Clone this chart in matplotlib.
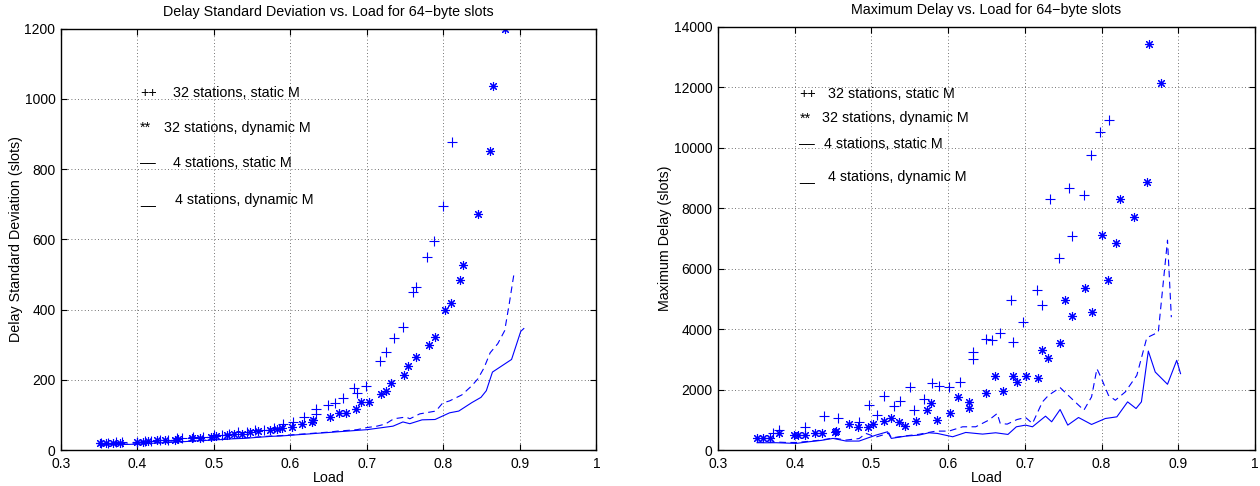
import matplotlib
matplotlib.use('Agg')
import matplotlib.pyplot as plt
import numpy as np

plt.rcParams['font.family'] = ['Liberation Sans', 'DejaVu Sans']

# ---- left panel: delay standard deviation (slots) ----
sd_static32_x = [0.352, 0.362, 0.372, 0.380, 0.400, 0.410, 0.418, 0.430, 0.440, 0.452,
                 0.458, 0.473, 0.485, 0.500, 0.510, 0.520, 0.532, 0.543, 0.553, 0.565,
                 0.578, 0.590, 0.603, 0.618, 0.633, 0.633, 0.649, 0.658, 0.669, 0.683,
                 0.687, 0.699, 0.717, 0.725, 0.735, 0.747, 0.760, 0.764, 0.779, 0.788,
                 0.799, 0.811]
sd_static32_y = [20, 21, 22, 22, 24, 26, 27, 29, 30, 33,
                 34, 36, 37, 42, 43, 47, 50, 51, 57, 58,
                 64, 74, 80, 94, 103, 117, 129, 134, 149, 177,
                 163, 183, 254, 280, 320, 349, 451, 463, 551, 594,
                 694, 877]

sd_dyn32_x = [0.351, 0.359, 0.368, 0.377, 0.399, 0.407, 0.414, 0.426, 0.436, 0.449,
              0.453, 0.471, 0.482, 0.496, 0.503, 0.517, 0.526, 0.537, 0.547, 0.558,
              0.573, 0.582, 0.589, 0.602, 0.615, 0.628, 0.630, 0.652, 0.663, 0.672,
              0.686, 0.692, 0.702, 0.718, 0.725, 0.731, 0.748, 0.754, 0.764, 0.781,
              0.789, 0.802, 0.810, 0.822, 0.826, 0.845, 0.861, 0.865, 0.880]
sd_dyn32_y = [20, 20, 21, 21, 23, 24, 25, 28, 28, 30,
              31, 33, 34, 38, 40, 44, 46, 47, 52, 54,
              58, 60, 62, 67, 74, 80, 86, 94, 106, 106,
              117, 137, 137, 160, 169, 191, 214, 240, 266, 300,
              323, 400, 420, 483, 526, 671, 851, 1037, 1200]

sd_static4_x = [0.350, 0.362, 0.375, 0.388, 0.400, 0.412, 0.425, 0.437, 0.450, 0.462,
                0.475, 0.487, 0.500, 0.512, 0.525, 0.537, 0.550, 0.562, 0.575, 0.587,
                0.600, 0.612, 0.625, 0.637, 0.650, 0.662, 0.675, 0.687, 0.700, 0.713,
                0.724, 0.735, 0.751, 0.756, 0.769, 0.790, 0.799, 0.808, 0.824, 0.837,
                0.845, 0.853, 0.861, 0.871, 0.880, 0.886, 0.892]
sd_static4_y = [15, 16, 17, 17, 18, 19, 21, 22, 24, 25,
                27, 28, 30, 31, 33, 34, 36, 38, 40, 41,
                43, 45, 47, 49, 51, 54, 56, 58, 64, 68,
                74, 89, 94, 89, 103, 111, 134, 140, 157, 183,
                203, 234, 277, 303, 340, 417, 500]

sd_dyn4_x = [0.350, 0.362, 0.375, 0.388, 0.400, 0.412, 0.425, 0.437, 0.450, 0.462,
             0.475, 0.487, 0.500, 0.512, 0.525, 0.537, 0.550, 0.562, 0.575, 0.587,
             0.600, 0.612, 0.625, 0.637, 0.650, 0.662, 0.675, 0.687, 0.700, 0.717,
             0.734, 0.747, 0.756, 0.772, 0.789, 0.808, 0.820, 0.837, 0.849, 0.856,
             0.864, 0.889, 0.901, 0.905]
sd_dyn4_y = [14, 15, 16, 16, 17, 18, 20, 21, 23, 24,
             26, 27, 29, 30, 32, 33, 35, 37, 39, 40,
             42, 44, 46, 48, 50, 52, 54, 56, 58, 63,
             68, 80, 75, 86, 87, 106, 111, 135, 150, 169,
             222, 258, 338, 346]

# ---- right panel: maximum delay (slots) ----
md_static32_x = [0.372, 0.380, 0.414, 0.438, 0.456, 0.484, 0.497, 0.507, 0.516, 0.529,
                 0.537, 0.550, 0.556, 0.569, 0.579, 0.588, 0.601, 0.616, 0.632, 0.632,
                 0.649, 0.657, 0.668, 0.682, 0.685, 0.697, 0.716, 0.723, 0.733, 0.745,
                 0.758, 0.762, 0.777, 0.786, 0.798, 0.810]
md_static32_y = [549, 659, 769, 1120, 1043, 912, 1483, 1175, 1791, 1450,
                 1625, 2087, 1318, 1680, 2230, 2120, 2087, 2250, 3240, 3021,
                 3680, 3647, 3865, 4965, 3569, 4228, 5295, 4811, 8303, 6349,
                 8676, 7074, 8446, 9743, 10522, 10929]

md_dyn32_x = [0.351, 0.359, 0.368, 0.380, 0.399, 0.404, 0.414, 0.427, 0.436, 0.452,
              0.454, 0.471, 0.482, 0.496, 0.502, 0.517, 0.526, 0.536, 0.544, 0.558,
              0.573, 0.578, 0.586, 0.602, 0.613, 0.627, 0.627, 0.650, 0.661, 0.671,
              0.684, 0.690, 0.701, 0.717, 0.723, 0.730, 0.746, 0.752, 0.762, 0.779,
              0.787, 0.800, 0.808, 0.819, 0.824, 0.842, 0.859, 0.862, 0.877]
md_dyn32_y = [385, 406, 406, 549, 495, 495, 495, 550, 570, 604,
              626, 846, 747, 747, 846, 955, 1065, 934, 791, 955,
              1318, 1571, 988, 1241, 1757, 1592, 1406, 1889, 2449, 1944,
              2449, 2252, 2449, 2383, 3318, 3054, 3548, 4975, 4425, 5361,
              4580, 7128, 5624, 6843, 8293, 7710, 8874, 13433, 12126]

md_static4_x = [0.351, 0.363, 0.376, 0.389, 0.402, 0.419, 0.435, 0.450, 0.467, 0.484,
                0.493, 0.506, 0.523, 0.526, 0.545, 0.562, 0.584, 0.601, 0.619, 0.636,
                0.653, 0.664, 0.668, 0.677, 0.690, 0.701, 0.710, 0.723, 0.731, 0.746,
                0.761, 0.777, 0.787, 0.794, 0.800, 0.809, 0.818, 0.831, 0.846, 0.859,
                0.874, 0.886, 0.891]
md_static4_y = [260, 255, 265, 250, 250, 290, 330, 400, 330, 380,
                549, 430, 560, 400, 470, 520, 626, 626, 769, 769,
                989, 1208, 879, 857, 1010, 1076, 879, 1593, 1812, 2065,
                1702, 1318, 1757, 2690, 2362, 1812, 1647, 1922, 2471, 3713,
                3898, 6942, 4393]

md_dyn4_x = [0.351, 0.363, 0.376, 0.389, 0.402, 0.419, 0.435, 0.450, 0.467, 0.484,
             0.506, 0.521, 0.526, 0.545, 0.562, 0.575, 0.586, 0.606, 0.623, 0.645,
             0.662, 0.678, 0.689, 0.701, 0.710, 0.727, 0.735, 0.746, 0.756, 0.770,
             0.787, 0.805, 0.820, 0.834, 0.845, 0.852, 0.861, 0.870, 0.886, 0.898,
             0.903]
md_dyn4_y = [242, 240, 242, 230, 220, 275, 320, 385, 297, 297,
             494, 604, 385, 461, 494, 571, 549, 439, 582, 527,
             571, 516, 769, 824, 769, 1120, 934, 1340, 824, 1076,
             846, 1043, 1098, 1593, 1373, 1593, 3273, 2580, 2175, 2966,
             2527]

legend_labels = ['32 stations, static M', '32 stations, dynamic M',
                 '4 stations, static M', '4 stations, dynamic M']
legend_keys = ['++', '**', '\u2013\u2013', '__']

titles = ['Delay Standard Deviation vs. Load for 64\u2212byte slots',
          'Maximum Delay vs. Load for 64\u2212byte slots']
ylabels = ['Delay Standard Deviation (slots)', 'Maximum Delay (slots)']

blue = (0, 0, 1)
fs = 10        # tick labels
fs_txt = 10.3  # titles, axis labels, annotations

fig = plt.figure(figsize=(12.6, 4.86), dpi=100)
ax1 = fig.add_axes([0.0484, 0.074, 0.425, 0.867])
ax2 = fig.add_axes([0.5698, 0.074, 0.4262, 0.871])


def draw(ax, s32, d32, s4, d4, ymax, ystep, key_x, text_x, key_y):
    ax.plot(d32[0], d32[1], linestyle='none', marker=(8, 2, 0), ms=6.5,
            mec=blue, mew=0.8, color=blue)
    ax.plot(s32[0], s32[1], linestyle='none', marker='+', ms=7,
            mec=blue, mew=0.8, color=blue)
    ax.plot(s4[0], s4[1], color=blue, lw=0.8, linestyle=(0, (6, 4)))
    ax.plot(d4[0], d4[1], color=blue, lw=0.8)
    ax.set_xlim(0.3, 1.0)
    ax.set_ylim(0, ymax)
    ax.set_xticks(np.arange(0.3, 1.01, 0.1))
    ax.set_xticklabels(['0.3', '0.4', '0.5', '0.6', '0.7', '0.8', '0.9', '1'])
    ax.set_yticks(np.arange(0, ymax + 1, ystep))
    ax.grid(True, color='#444444', linestyle=(0, (1, 3)), lw=0.6)
    ax.tick_params(direction='in', length=4, width=0.8, top=True, right=True,
                   labelsize=fs)
    ax.tick_params(axis='x', pad=5)
    ax.tick_params(axis='y', pad=4)
    for sp in ax.spines.values():
        sp.set_linewidth(1.0)
    ax.set_xlabel('Load', fontsize=fs_txt, labelpad=0)
    for k, lab, tx, ky in zip(legend_keys, legend_labels, text_x, key_y):
        ax.text(key_x, ky, k, fontsize=fs_txt, va='center', ha='left')
        ax.text(tx, ky, lab, fontsize=fs_txt, va='center', ha='left')


draw(ax1, (sd_static32_x, sd_static32_y), (sd_dyn32_x, sd_dyn32_y),
     (sd_static4_x, sd_static4_y), (sd_dyn4_x, sd_dyn4_y),
     1200, 200, 0.403, [0.446, 0.435, 0.446, 0.449], [1017, 917, 817, 711])
draw(ax2, (md_static32_x, md_static32_y), (md_dyn32_x, md_dyn32_y),
     (md_static4_x, md_static4_y), (md_dyn4_x, md_dyn4_y),
     14000, 2000, 0.406, [0.443, 0.435, 0.438, 0.444], [11763, 10972, 10116, 9028])

for ax, t, yl in zip([ax1, ax2], titles, ylabels):
    ax.set_title(t, fontsize=fs_txt, pad=9)
    ax.set_ylabel(yl, fontsize=fs_txt, labelpad=1)

fig.savefig('out.png', dpi=100)
